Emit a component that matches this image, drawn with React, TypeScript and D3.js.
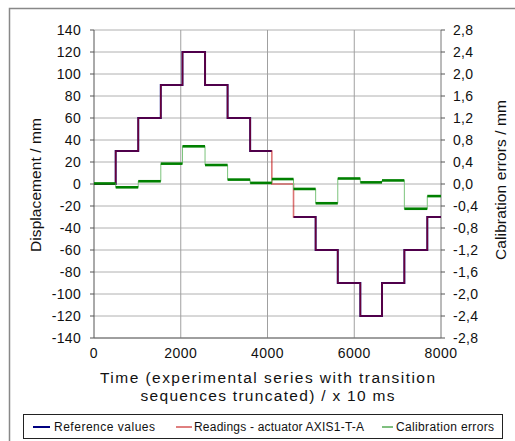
import React from 'react';
import * as d3 from 'd3';

// step start times (x 10 ms); last entry closes the final step
const stepTimes = [0, 500, 1020, 1540, 2040, 2560, 3080, 3600, 4100, 4600, 5110, 5620, 6140, 6640, 7155, 7684, 8000];
const referenceValues = [0, 30, 60, 90, 120, 90, 60, 30, null, -30, -60, -90, -120, -90, -60, -30];
const readingValues = [0, 30, 60, 90, 120, 90, 60, 30, 0, -30, -60, -90, -120, -90, -60, -30];
const calibrationErrors = [0.01, -0.06, 0.05, 0.37, 0.685, 0.345, 0.08, 0.02, 0.09, -0.09, -0.35, 0.1, 0.03, 0.065, -0.45, -0.22];

const leftTicks = d3.range(-140, 141, 20);
const rightTicks = [-2.8, -2.4, -2.0, -1.6, -1.2, -0.8, -0.4, 0, 0.4, 0.8, 1.2, 1.6, 2.0, 2.4, 2.8];
const xTicks = [0, 2000, 4000, 6000, 8000];

const W = 515;
const H = 441;
const margin = { left: 94, right: 74, top: 30, bottom: 103 };

const font = 'Liberation Sans, Arial, sans-serif';

function stepPoints(levels: (number | null)[]) {
  const pts: [number, number | null][] = [];
  levels.forEach((v, i) => {
    pts.push([stepTimes[i], v]);
    pts.push([stepTimes[i + 1], v]);
  });
  return pts;
}

const App = () => {
  const x = d3.scaleLinear().domain([0, 8000]).range([margin.left, W - margin.right]);
  const yL = d3.scaleLinear().domain([-140, 140]).range([H - margin.bottom, margin.top]);
  const yR = d3.scaleLinear().domain([-2.8, 2.8]).range([H - margin.bottom, margin.top]);

  const lineL = d3.line<[number, number | null]>()
    .defined(d => d[1] !== null)
    .x(d => x(d[0]))
    .y(d => yL(d[1] as number));
  const lineR = d3.line<[number, number | null]>()
    .x(d => x(d[0]))
    .y(d => yR(d[1] as number));

  const fmt = (v: number) => v.toFixed(1).replace('.', ',');
  const x0 = x(0), x1 = x(8000), yTop = yL(140), yBot = yL(-140);
  const midX = (x0 + x1) / 2;

  return (
    <svg width={W} height={H} style={{ position: 'absolute', left: 0, top: 0 }} fontFamily={font}>
      <rect x={9.5} y={8.5} width={520} height={440} fill="#fff" stroke="#888" strokeWidth={1.5} />

      {/* grid */}
      {leftTicks.map(t => (
        <line key={'h' + t} x1={x0} x2={x1} y1={yL(t)} y2={yL(t)} stroke="#b0b0b0" strokeWidth={1} />
      ))}
      {xTicks.slice(1, -1).map(t => (
        <line key={'v' + t} x1={x(t)} x2={x(t)} y1={yTop} y2={yBot} stroke="#a0a0a0" strokeWidth={1} />
      ))}

      {/* axes */}
      <line x1={x0} x2={x0} y1={yTop} y2={yBot} stroke="#555" strokeWidth={1} />
      <line x1={x1} x2={x1} y1={yTop} y2={yBot} stroke="#777" strokeWidth={1} />
      <line x1={x0} x2={x1} y1={yBot} y2={yBot} stroke="#666" strokeWidth={1} />
      {leftTicks.map(t => (
        <g key={'lt' + t}>
          <line x1={x0 - 4} x2={x0} y1={yL(t)} y2={yL(t)} stroke="#555" />
          <text x={x0 - 13} y={yL(t)} dy="0.35em" textAnchor="end" fontSize={14} letterSpacing={0.3} fill="#111">{t}</text>
        </g>
      ))}
      {rightTicks.map(t => (
        <g key={'rt' + t}>
          <line x1={x1} x2={x1 + 4} y1={yR(t)} y2={yR(t)} stroke="#555" />
          <text x={x1 + 12} y={yR(t)} dy="0.35em" textAnchor="start" fontSize={14} letterSpacing={0.3} fill="#111">{fmt(t)}</text>
        </g>
      ))}
      {xTicks.map(t => (
        <text key={'xt' + t} x={x(t)} y={yBot + 15} dy="0.35em" textAnchor="middle" fontSize={14} letterSpacing={0.5} fill="#111">{t}</text>
      ))}

      {/* series */}
      <path d={lineL(stepPoints(referenceValues)) || ''} fill="none" stroke="#000080" strokeWidth={2} />
      <path d={lineL(stepPoints(readingValues)) || ''} fill="none" stroke="#c00000" strokeWidth={1.6} strokeOpacity={0.55} />
      <path d={lineR(stepPoints(calibrationErrors)) || ''} fill="none" stroke="#7cc47c" strokeWidth={1} />
      {calibrationErrors.map((v, i) => (
        <line key={'ce' + i} x1={x(stepTimes[i])} x2={x(stepTimes[i + 1])} y1={yR(v)} y2={yR(v)}
          stroke="#008000" strokeWidth={2.6} />
      ))}

      {/* axis titles */}
      <text transform={`translate(36,185) rotate(-90)`} textAnchor="middle" dy="0.35em" fontSize={15.5}
        textLength={134} lengthAdjust="spacing" fill="#111">Displacement / mm</text>
      <text transform={`translate(501,180) rotate(-90)`} textAnchor="middle" dy="0.35em" fontSize={15.5}
        textLength={160} lengthAdjust="spacing" fill="#111">Calibration errors / mm</text>
      <text x={midX} y={378} dy="0.35em" textAnchor="middle" fontSize={15.5}
        textLength={335} lengthAdjust="spacing" fill="#111">Time (experimental series with transition</text>
      <text x={midX} y={396} dy="0.35em" textAnchor="middle" fontSize={15.5}
        textLength={254} lengthAdjust="spacing" fill="#111">sequences truncated) / x 10 ms</text>

      {/* legend */}
      <rect x={23.5} y={414.5} width={479} height={24} fill="#fff" stroke="#222" strokeWidth={1} />
      <line x1={33} x2={50} y1={427} y2={427} stroke="#000080" strokeWidth={2} />
      <text x={54} y={427} dy="0.35em" fontSize={12} textLength={101} lengthAdjust="spacing" fill="#111">Reference values</text>
      <line x1={176} x2={192} y1={427} y2={427} stroke="#c00000" strokeWidth={1} />
      <text x={194} y={427} dy="0.35em" fontSize={12} textLength={170} lengthAdjust="spacing" fill="#111">Readings - actuator AXIS1-T-A</text>
      <line x1={382} x2={393} y1={427} y2={427} stroke="#008000" strokeWidth={1} />
      <text x={396} y={427} dy="0.35em" fontSize={12} textLength={98} lengthAdjust="spacing" fill="#111">Calibration errors</text>
    </svg>
  );
};

export default App;
